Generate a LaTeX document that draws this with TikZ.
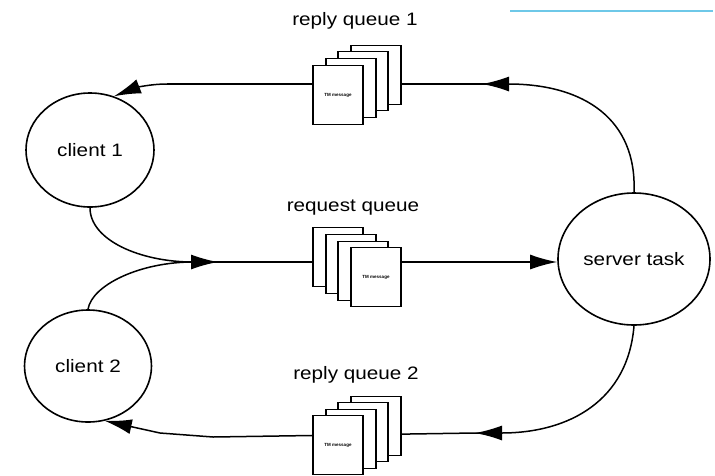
\documentclass[tikz,border=0pt]{standalone}
\usepackage{fontspec}
\setmainfont{Liberation Sans}
\newfontfamily\labfont[FakeStretch=1.15]{Liberation Sans}
\usetikzlibrary{arrows.meta,shapes.geometric}
\begin{document}
\begin{tikzpicture}[x=1pt,y=-1pt,
  lab/.style={font=\labfont\fontsize{18}{20}\selectfont, inner sep=0pt},
  proc/.style={ellipse, draw, line width=1.6pt, inner sep=0pt},
  page/.style={rectangle, draw, fill=white, line width=1.2pt, minimum width=50pt, minimum height=59pt, inner sep=0pt},
  conn/.style={line width=1.5pt},
  tip/.style={-{Latex[length=27pt,width=15pt]}},
  msgtxt/.style={font=\fontsize{4.5}{5}\selectfont\bfseries, inner sep=0pt}]
\useasboundingbox (0,0) rectangle (715,475);
% faint header line
\draw[line width=1.5pt, color={rgb,255:red,110;green,200;blue,232}] (510,11) -- (713,11);

% processes
\node[proc, minimum width=128pt, minimum height=114pt] (c1) at (90,150) {};
\node[lab] at (c1) {client 1};
\node[proc, minimum width=127pt, minimum height=112pt] (c2) at (88,366) {};
\node[lab] at (c2) {client 2};
\node[proc, minimum width=152pt, minimum height=132pt] (srv) at (634,259) {};
\node[lab] at (srv) {server task};

% junction / arrow coordinates
\coordinate (t1) at (482,84);
\coordinate (t1b) at (505,84);
\coordinate (a1) at (167,84);
\coordinate (j1) at (193,262);
\coordinate (m1) at (218,262);
\coordinate (t2) at (475,433);
\coordinate (t2b) at (498,434);
\coordinate (a2) at (213,437);
\coordinate (a2b) at (160,433);

% connectors drawn behind the queues
\draw[conn, tip] (srv.north) .. controls (637,120) and (585,84) .. (t1);
\draw[conn] (t1b) -- (a1);
\draw[conn, tip] (a1) .. controls (150,84) and (135,88) .. (c1.66);

\draw[conn] (c1.south) .. controls (90,240) and (140,262) .. (j1);
\draw[conn] (c2.north) .. controls (92,285) and (140,262) .. (j1);
\draw[conn, tip] (j1) -- (m1);
\draw[conn] (j1) -- (420,262);
\draw[conn, tip] (400,262) -- (srv.west |- 0,262);

\draw[conn, tip] (srv.south) .. controls (628,400) and (570,433) .. (t2);
\draw[conn] (t2b) -- (t2) -- (a2);
\draw[conn] (a2) -- (a2b);
\draw[conn, tip] (a2b) -- (c2.-73);

% reply queue 1
\node[page] (r1d) at (376,75) {};
\node[page] (r1c) at (363,81) {};
\node[page] (r1b) at (351,88) {};
\node[page] (r1a) at (338,95) {};
\node[msgtxt] at (r1a) {TM message};
\node[lab] (r1l) at (355,21) {reply queue 1};

% request queue
\node[page] (qd) at (338,257) {};
\node[page] (qc) at (351,264) {};
\node[page] (qb) at (363,271) {};
\node[page] (qa) at (376,277) {};
\node[msgtxt] at (qa) {TM message};
\node[lab] (ql) at (353,208) {request queue};

% reply queue 2
\node[page] (r2d) at (376,426) {};
\node[page] (r2c) at (363,432) {};
\node[page] (r2b) at (351,439) {};
\node[page] (r2a) at (338,445) {};
\node[msgtxt] at (r2a) {TM message};
\node[lab] (r2l) at (356,375) {reply queue 2};
\end{tikzpicture}
\end{document}
